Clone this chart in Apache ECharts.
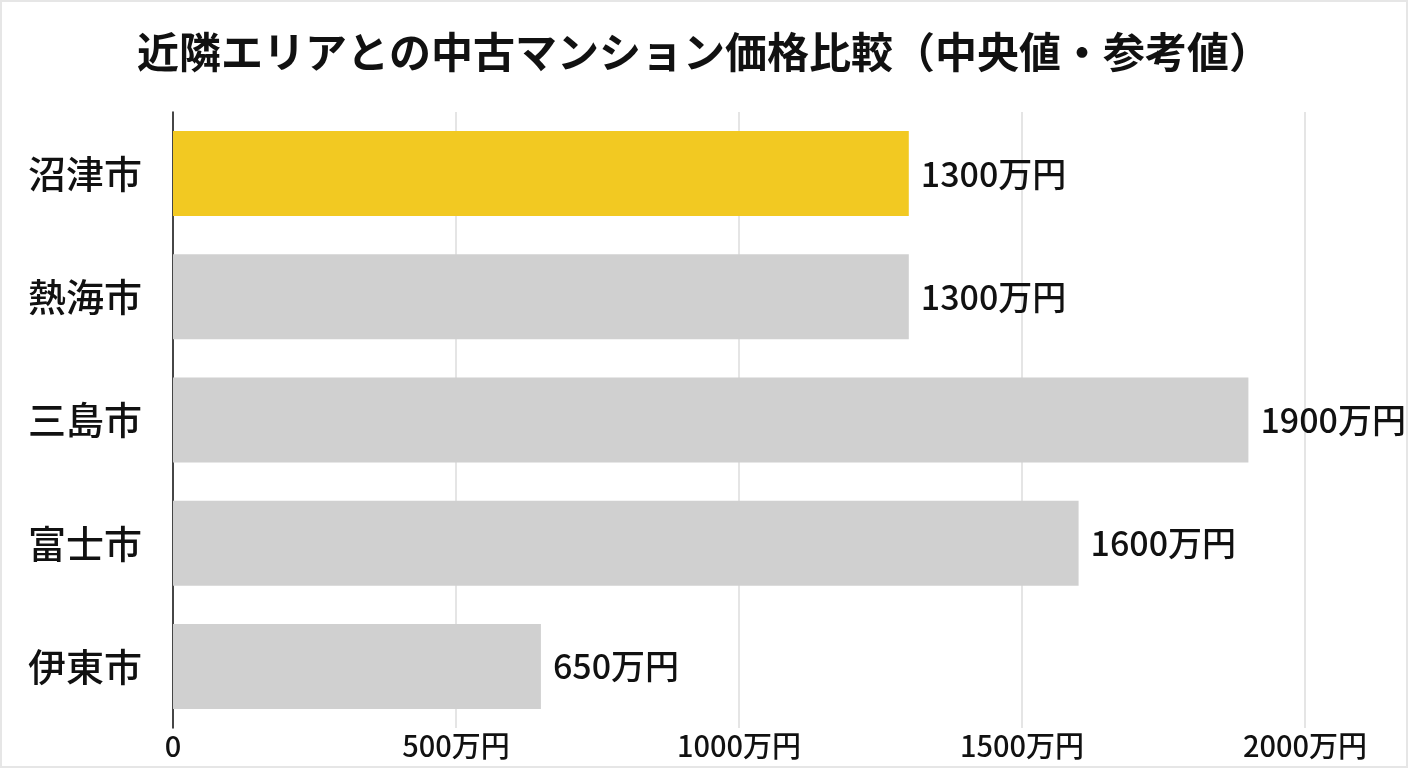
<!DOCTYPE html>
<html>
<head>
<meta charset="utf-8">
<script src="https://cdn.jsdelivr.net/npm/echarts@6/dist/echarts.min.js"></script>
<style>
  html, body { margin: 0; padding: 0; background: #fff; }
  #chart { width: 1404px; height: 764px; border: 2px solid #e6e6e6; }
</style>
</head>
<body>
<div id="chart"></div>
<script>
var cities = ["沼津市", "熱海市", "三島市", "富士市", "伊東市"];
var prices = [1300, 1300, 1900, 1600, 650];
var barColors = ["#F2C922", "#D0D0D0", "#D0D0D0", "#D0D0D0", "#D0D0D0"];
var titleText = "近隣エリアとの中古マンション価格比較（中央値・参考値）";

var myChart = echarts.init(document.getElementById("chart"));
var font = "'Noto Sans CJK JP', 'Noto Sans', sans-serif";

var option = {
  backgroundColor: "#fff",
  animation: false,
  title: {
    text: titleText,
    left: "center",
    top: 24,
    textStyle: { fontFamily: font, fontSize: 42, fontWeight: "bold", color: "#111" }
  },
  grid: { left: 171, right: 101, top: 110, bottom: 38, containLabel: false },
  xAxis: {
    type: "value",
    min: 0,
    max: 2000,
    interval: 500,
    axisLine: { show: false },
    axisTick: { show: false },
    splitLine: { lineStyle: { color: "#dcdcdc", width: 1.5 } },
    axisLabel: {
      fontFamily: font,
      fontSize: 29,
      fontWeight: 500,
      color: "#111",
      margin: 3,
      formatter: function (v) { return v === 0 ? "0" : v + "万円"; }
    }
  },
  yAxis: {
    type: "category",
    data: cities,
    inverse: true,
    axisLine: { lineStyle: { color: "#111", width: 1.5 } },
    axisTick: { show: false },
    axisLabel: { fontFamily: font, fontSize: 38, fontWeight: 500, color: "#111", margin: 31 }
  },
  series: [
    {
      type: "bar",
      data: prices.map(function (v, i) {
        return { value: v, itemStyle: { color: barColors[i] } };
      }),
      barWidth: 85,
      label: {
        show: true,
        position: "right",
        distance: 12,
        fontFamily: font,
        fontSize: 34,
        fontWeight: 500,
        color: "#111",
        formatter: function (p) { return p.value + "万円"; }
      }
    }
  ]
};

option && myChart.setOption(option);
</script>
</body>
</html>
